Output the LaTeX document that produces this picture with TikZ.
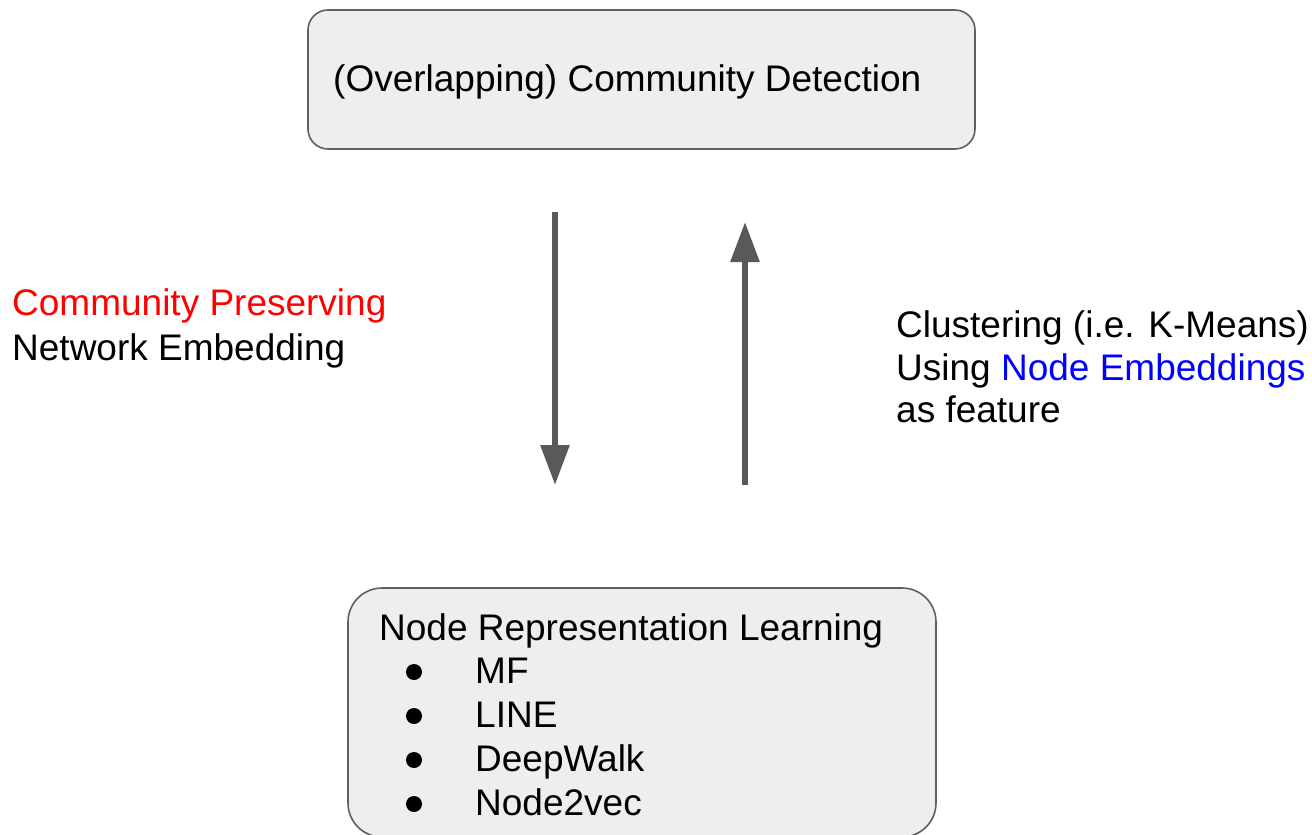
\documentclass[tikz,border=0pt]{standalone}
\usepackage{fontspec}
\setmainfont{Liberation Sans}
\usetikzlibrary{arrows.meta}
\definecolor{boxfill}{HTML}{EEEEEE}
\definecolor{boxline}{HTML}{5F5F5F}
\definecolor{arrowgray}{HTML}{595959}
\definecolor{hired}{HTML}{FF0000}
\definecolor{hiblue}{HTML}{0000FF}
\begin{document}
\begin{tikzpicture}[x=1pt,y=-1pt,
  panel/.style={draw=boxline,line width=1.6pt,fill=boxfill,inner sep=0pt,outer sep=0pt},
  label/.style={anchor=base west,inner sep=0pt,font=\fontsize{37}{44}\selectfont},
  bulletdot/.style={circle,fill=black,inner sep=0pt,minimum size=16pt},
  flow/.style={draw=arrowgray,line width=6pt,-{Triangle[length=40pt,width=28pt]}}
]
\useasboundingbox (0,0) rectangle (1312,835);

% top box
\draw[panel,rounded corners=20pt] (308,10) rectangle (975,149);
\node[label] (cd) at (333,91) {(Overlapping) Community Detection};

% bottom box (its lower edge runs just past the page)
\begin{scope}
\clip (0,0) rectangle (1312,835);
\draw[panel,rounded corners=34pt] (348,588) rectangle (936,837);
\end{scope}
\node[label] (nrl) at (379,640) {Node Representation Learning};
\foreach \name/\txt/\y in {mf/MF/683,line/LINE/727,dw/DeepWalk/771,n2v/Node2vec/815}{
  \node[bulletdot] (b\name) at (414,\y-11) {};
  \node[label] (\name) at (475,\y) {\txt};
}

% arrows between the two stages
\coordinate (dtop) at (555,212);
\coordinate (dbot) at (555,485);
\coordinate (ubot) at (745,485);
\coordinate (utop) at (745,222);
\draw[flow] (dtop) -- (dbot);
\draw[flow] (ubot) -- (utop);

% side labels
\node[label,text=hired] (cp) at (12,315) {Community Preserving};
\node[label] (ne) at (12,360) {Network Embedding};
\node[label] (cl) at (896,337) {Clustering (i.e. K-Means)};
\node[label] (us) at (896,380) {Using \textcolor{hiblue}{Node Embeddings}};
\node[label] (af) at (896,422) {as feature};
\end{tikzpicture}
\end{document}
